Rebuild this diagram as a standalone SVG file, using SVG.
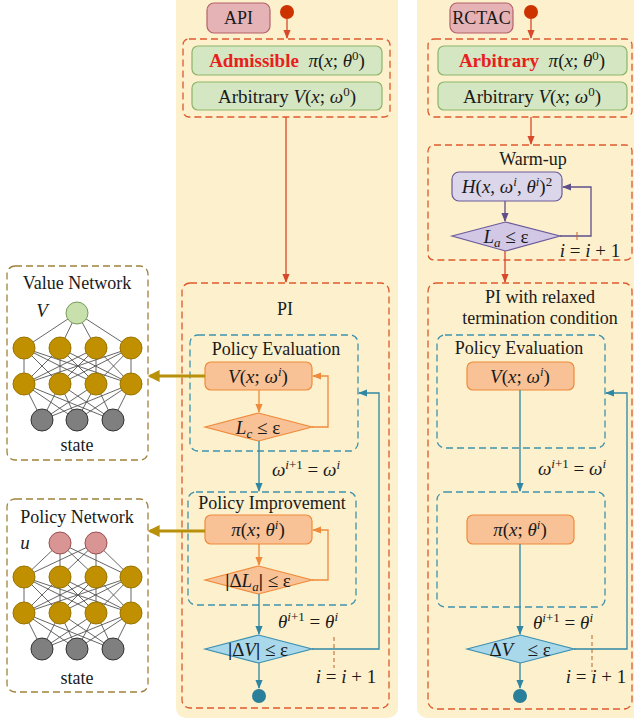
<svg xmlns="http://www.w3.org/2000/svg" width="634" height="721" viewBox="0 0 634 721">
<defs>
<style>
.t{font-family:"Liberation Serif","Times New Roman",serif;font-size:18px;fill:#1a1a1a}
.m{font-family:"Liberation Serif","Times New Roman",serif;font-size:19px;fill:#1a1a1a}
.i{font-style:italic}
.panel{fill:#fdf0cc;stroke:none}
.rd{fill:none;stroke:#de5a2e;stroke-width:1.3;stroke-dasharray:7 4}
.bd{fill:none;stroke:#3f93ad;stroke-width:1.3;stroke-dasharray:7 4}
.gd{fill:none;stroke:#a0823a;stroke-width:1.3;stroke-dasharray:7 4}
.green{fill:#d5e6c2;stroke:#8cb56a;stroke-width:1.2}
.orange{fill:#f8c296;stroke:#ef8a3b;stroke-width:1.2}
.blue{fill:#a8d8ea;stroke:#3b8fb0;stroke-width:1.2}
.lav{fill:#dcd6ea;stroke:#6a5a9a;stroke-width:1.2}
.lavd{fill:#d2c8e6;stroke:#6a5a9a;stroke-width:1.2}
.pink{fill:#e5b3b6;stroke:#b4626b;stroke-width:1.2}
.lr{fill:none;stroke:#d8482a;stroke-width:1.3}
.lo{fill:none;stroke:#ef8a3b;stroke-width:1.3}
.lb{fill:none;stroke:#2f86a3;stroke-width:1.3}
.lp{fill:none;stroke:#5e4e8a;stroke-width:1.3}
.lg{fill:none;stroke:#b8900a;stroke-width:3}
.tick{fill:none;stroke:#b5652b;stroke-width:1;stroke-dasharray:4 3}
.nl{stroke:#555;stroke-width:0.9}
.hid{fill:#c09000;stroke:#9a7500;stroke-width:1}
.inp{fill:#7f7f7f;stroke:#333;stroke-width:1}
.outv{fill:#c8e0ab;stroke:#7a9a5a;stroke-width:1}
.outp{fill:#d99494;stroke:#9a5050;stroke-width:1}
.sp{font-size:13px}
</style>
<marker id="ar" viewBox="0 0 10 10" refX="9" refY="5" markerWidth="7" markerHeight="7" orient="auto"><path d="M0,1 L10,5 L0,9 Z" fill="#d8482a"/></marker>
<marker id="ao" viewBox="0 0 10 10" refX="9" refY="5" markerWidth="7" markerHeight="7" orient="auto"><path d="M0,1 L10,5 L0,9 Z" fill="#ef8a3b"/></marker>
<marker id="ab" viewBox="0 0 10 10" refX="9" refY="5" markerWidth="7" markerHeight="7" orient="auto"><path d="M0,1 L10,5 L0,9 Z" fill="#2f86a3"/></marker>
<marker id="ap" viewBox="0 0 10 10" refX="9" refY="5" markerWidth="7" markerHeight="7" orient="auto"><path d="M0,1 L10,5 L0,9 Z" fill="#5e4e8a"/></marker>
<marker id="ag" viewBox="0 0 10 10" refX="8" refY="5" markerWidth="4" markerHeight="4" orient="auto"><path d="M0,0 L10,5 L0,10 Z" fill="#b8900a"/></marker>
</defs>
<rect width="634" height="721" fill="#fff"/>

<!-- panels -->
<rect class="panel" x="176" y="-10" width="222" height="728" rx="10"/>
<rect class="panel" x="417" y="-10" width="230" height="728" rx="10"/>

<!-- ===== LEFT (API) ===== -->
<g id="api-label">
<rect class="pink" x="207" y="3" width="63" height="30" rx="7"/>
<text class="t" x="238.5" y="24" text-anchor="middle" font-size="19">API</text>
</g>
<g id="api-start"><circle cx="287" cy="12" r="7" fill="#cc3300"/></g>
<g id="api-init">
<rect class="rd" x="183" y="39" width="207" height="78" rx="6"/>
<rect class="green" x="192" y="46" width="190" height="29" rx="6"/>
<text class="m" x="287" y="67" text-anchor="middle"><tspan font-weight="bold" fill="#e8201c">Admissible</tspan>&#160;&#160;<tspan class="i">π</tspan>(<tspan class="i">x</tspan>; <tspan class="i">θ</tspan><tspan dy="-7" class="sp">0</tspan><tspan dy="7">)</tspan></text>
<rect class="green" x="192" y="82" width="190" height="28" rx="6"/>
<text class="m" x="287" y="103" text-anchor="middle">Arbitrary <tspan class="i">V</tspan>(<tspan class="i">x</tspan>; <tspan class="i">ω</tspan><tspan dy="-7" class="sp">0</tspan><tspan dy="7">)</tspan></text>
</g>
<g id="api-pi">
<rect class="rd" x="182" y="283" width="207" height="425" rx="8"/>
<text class="t" x="285" y="315" text-anchor="middle" font-size="19">PI</text>
</g>
<g id="api-pe">
<rect class="bd" x="190" y="335" width="168" height="116" rx="8"/>
<text class="t" x="276" y="355" text-anchor="middle">Policy Evaluation</text>
<rect class="orange" x="205" y="362" width="107" height="28" rx="6"/>
<text class="m" x="258" y="383" text-anchor="middle"><tspan class="i">V</tspan>(<tspan class="i">x</tspan>; <tspan class="i">ω</tspan><tspan dy="-7" class="sp i">i</tspan><tspan dy="7">)</tspan></text>
<polygon class="orange" points="205,427 258.5,413 312,427 258.5,441"/>
<text class="m" x="258" y="434" text-anchor="middle"><tspan class="i">L</tspan><tspan dy="4" class="sp i">c</tspan><tspan dy="-4">&#160;≤ ε</tspan></text>
</g>
<g id="api-pimp">
<rect class="bd" x="188" y="492" width="168" height="113" rx="8"/>
<text class="t" x="272" y="509" text-anchor="middle">Policy Improvement</text>
<rect class="orange" x="205" y="515" width="107" height="29" rx="6"/>
<text class="m" x="258" y="536" text-anchor="middle"><tspan class="i">π</tspan>(<tspan class="i">x</tspan>; <tspan class="i">θ</tspan><tspan dy="-7" class="sp i">i</tspan><tspan dy="7">)</tspan></text>
<polygon class="orange" points="205,580 258.5,566 312,580 258.5,594"/>
<text class="m" x="258" y="587" text-anchor="middle"><tspan font-weight="bold">|</tspan>Δ<tspan class="i">L</tspan><tspan dy="4" class="sp i">a</tspan><tspan dy="-4" font-weight="bold">|</tspan> ≤ ε</text>
</g>
<g id="api-check">
<polygon class="blue" points="205,649 258.5,635 312,649 258.5,663"/>
<text class="m" x="258" y="656" text-anchor="middle"><tspan font-weight="bold">|</tspan>Δ<tspan class="i">V</tspan><tspan font-weight="bold">|</tspan> ≤ ε</text>
</g>
<g id="api-end"><circle cx="259" cy="696" r="7" fill="#2a7f9a"/></g>

<!-- ===== RIGHT (RCTAC) ===== -->
<g id="rctac-label">
<rect class="pink" x="450" y="3" width="63" height="30" rx="7"/>
<text class="t" x="481.5" y="24" text-anchor="middle" font-size="19">RCTAC</text>
</g>
<g id="rctac-start"><circle cx="531" cy="12" r="7" fill="#cc3300"/></g>
<g id="rctac-init">
<rect class="rd" x="428" y="39" width="204" height="78" rx="6"/>
<rect class="green" x="438" y="46" width="189" height="29" rx="6"/>
<text class="m" x="532" y="67" text-anchor="middle"><tspan font-weight="bold" fill="#e8201c">Arbitrary</tspan>&#160;&#160;<tspan class="i">π</tspan>(<tspan class="i">x</tspan>; <tspan class="i">θ</tspan><tspan dy="-7" class="sp">0</tspan><tspan dy="7">)</tspan></text>
<rect class="green" x="438" y="82" width="189" height="28" rx="6"/>
<text class="m" x="532" y="103" text-anchor="middle">Arbitrary <tspan class="i">V</tspan>(<tspan class="i">x</tspan>; <tspan class="i">ω</tspan><tspan dy="-7" class="sp">0</tspan><tspan dy="7">)</tspan></text>
</g>
<g id="warmup">
<rect class="rd" x="428" y="145" width="204" height="115" rx="6"/>
<text class="t" x="533" y="165" text-anchor="middle">Warm-up</text>
<rect class="lav" x="452" y="172" width="110" height="29" rx="7"/>
<text class="m" x="507" y="193" text-anchor="middle"><tspan class="i">H</tspan>(<tspan class="i">x</tspan>, <tspan class="i">ω</tspan><tspan dy="-7" class="sp i">i</tspan><tspan dy="7">, </tspan><tspan class="i">θ</tspan><tspan dy="-7" class="sp i">i</tspan><tspan dy="7">)</tspan><tspan dy="-7" class="sp">2</tspan></text>
<polygon class="lavd" points="452,236 505.5,222 560,236 505.5,251"/>
<text class="m" x="506" y="243" text-anchor="middle"><tspan class="i">L</tspan><tspan dy="4" class="sp i">a</tspan><tspan dy="-4">&#160;≤ ε</tspan></text>
<text class="m" x="590" y="257" text-anchor="middle"><tspan class="i">i</tspan> = <tspan class="i">i</tspan> + 1</text>
</g>
<g id="rctac-pi">
<rect class="rd" x="428" y="283" width="204" height="426" rx="8"/>
<text class="t" x="540" y="303" text-anchor="middle">PI with relaxed</text>
<text class="t" x="540" y="324" text-anchor="middle">termination condition</text>
</g>
<g id="rctac-pe">
<rect class="bd" x="437" y="335" width="168" height="113" rx="8"/>
<text class="t" x="519" y="354" text-anchor="middle">Policy Evaluation</text>
<rect class="orange" x="467" y="362" width="107" height="28" rx="6"/>
<text class="m" x="520" y="383" text-anchor="middle"><tspan class="i">V</tspan>(<tspan class="i">x</tspan>; <tspan class="i">ω</tspan><tspan dy="-7" class="sp i">i</tspan><tspan dy="7">)</tspan></text>
</g>
<g id="rctac-pimp">
<rect class="bd" x="437" y="492" width="168" height="115" rx="8"/>
<rect class="orange" x="467" y="515" width="107" height="29" rx="6"/>
<text class="m" x="520" y="536" text-anchor="middle"><tspan class="i">π</tspan>(<tspan class="i">x</tspan>; <tspan class="i">θ</tspan><tspan dy="-7" class="sp i">i</tspan><tspan dy="7">)</tspan></text>
</g>
<g id="rctac-check">
<polygon class="blue" points="467,649 520.5,635 574,649 520.5,663"/>
<text class="m" x="520" y="656" text-anchor="middle">Δ<tspan class="i">V</tspan>&#160;&#160;&#160;≤ ε</text>
</g>
<g id="rctac-end"><circle cx="520" cy="696" r="7" fill="#2a7f9a"/></g>

<!-- ===== NETWORKS ===== -->
<g id="value-network">
<rect class="gd" x="7" y="266" width="141" height="194" rx="8"/>
<text class="t" x="77" y="289" text-anchor="middle">Value Network</text>
<text class="m i" x="42" y="317" text-anchor="middle">V</text>
<g>
<line class="nl" x1="77" y1="313" x2="24" y2="348"/><line class="nl" x1="77" y1="313" x2="60" y2="348"/><line class="nl" x1="77" y1="313" x2="96" y2="348"/><line class="nl" x1="77" y1="313" x2="131" y2="348"/>
<line class="nl" x1="24" y1="348" x2="24" y2="384"/><line class="nl" x1="24" y1="348" x2="60" y2="384"/><line class="nl" x1="24" y1="348" x2="96" y2="384"/><line class="nl" x1="24" y1="348" x2="131" y2="384"/>
<line class="nl" x1="60" y1="348" x2="24" y2="384"/><line class="nl" x1="60" y1="348" x2="60" y2="384"/><line class="nl" x1="60" y1="348" x2="96" y2="384"/><line class="nl" x1="60" y1="348" x2="131" y2="384"/>
<line class="nl" x1="96" y1="348" x2="24" y2="384"/><line class="nl" x1="96" y1="348" x2="60" y2="384"/><line class="nl" x1="96" y1="348" x2="96" y2="384"/><line class="nl" x1="96" y1="348" x2="131" y2="384"/>
<line class="nl" x1="131" y1="348" x2="24" y2="384"/><line class="nl" x1="131" y1="348" x2="60" y2="384"/><line class="nl" x1="131" y1="348" x2="96" y2="384"/><line class="nl" x1="131" y1="348" x2="131" y2="384"/>
<line class="nl" x1="24" y1="384" x2="42" y2="420"/><line class="nl" x1="24" y1="384" x2="77" y2="420"/><line class="nl" x1="24" y1="384" x2="113" y2="420"/>
<line class="nl" x1="60" y1="384" x2="42" y2="420"/><line class="nl" x1="60" y1="384" x2="77" y2="420"/><line class="nl" x1="60" y1="384" x2="113" y2="420"/>
<line class="nl" x1="96" y1="384" x2="42" y2="420"/><line class="nl" x1="96" y1="384" x2="77" y2="420"/><line class="nl" x1="96" y1="384" x2="113" y2="420"/>
<line class="nl" x1="131" y1="384" x2="42" y2="420"/><line class="nl" x1="131" y1="384" x2="77" y2="420"/><line class="nl" x1="131" y1="384" x2="113" y2="420"/>
</g>
<circle class="outv" cx="77" cy="313" r="11"/>
<circle class="hid" cx="24" cy="348" r="11"/><circle class="hid" cx="60" cy="348" r="11"/><circle class="hid" cx="96" cy="348" r="11"/><circle class="hid" cx="131" cy="348" r="11"/>
<circle class="hid" cx="24" cy="384" r="11"/><circle class="hid" cx="60" cy="384" r="11"/><circle class="hid" cx="96" cy="384" r="11"/><circle class="hid" cx="131" cy="384" r="11"/>
<circle class="inp" cx="42" cy="420" r="11"/><circle class="inp" cx="77" cy="420" r="11"/><circle class="inp" cx="113" cy="420" r="11"/>
<text class="t" x="77" y="451" text-anchor="middle">state</text>
</g>
<g id="policy-network">
<rect class="gd" x="7" y="499" width="141" height="193" rx="8"/>
<text class="t" x="77" y="523" text-anchor="middle">Policy Network</text>
<text class="m i" x="25" y="549" text-anchor="middle">u</text>
<g>
<line class="nl" x1="60" y1="543" x2="24" y2="577"/><line class="nl" x1="60" y1="543" x2="60" y2="577"/><line class="nl" x1="60" y1="543" x2="96" y2="577"/><line class="nl" x1="60" y1="543" x2="131" y2="577"/>
<line class="nl" x1="96" y1="543" x2="24" y2="577"/><line class="nl" x1="96" y1="543" x2="60" y2="577"/><line class="nl" x1="96" y1="543" x2="96" y2="577"/><line class="nl" x1="96" y1="543" x2="131" y2="577"/>
<line class="nl" x1="24" y1="577" x2="24" y2="613"/><line class="nl" x1="24" y1="577" x2="60" y2="613"/><line class="nl" x1="24" y1="577" x2="96" y2="613"/><line class="nl" x1="24" y1="577" x2="131" y2="613"/>
<line class="nl" x1="60" y1="577" x2="24" y2="613"/><line class="nl" x1="60" y1="577" x2="60" y2="613"/><line class="nl" x1="60" y1="577" x2="96" y2="613"/><line class="nl" x1="60" y1="577" x2="131" y2="613"/>
<line class="nl" x1="96" y1="577" x2="24" y2="613"/><line class="nl" x1="96" y1="577" x2="60" y2="613"/><line class="nl" x1="96" y1="577" x2="96" y2="613"/><line class="nl" x1="96" y1="577" x2="131" y2="613"/>
<line class="nl" x1="131" y1="577" x2="24" y2="613"/><line class="nl" x1="131" y1="577" x2="60" y2="613"/><line class="nl" x1="131" y1="577" x2="96" y2="613"/><line class="nl" x1="131" y1="577" x2="131" y2="613"/>
<line class="nl" x1="24" y1="613" x2="42" y2="649"/><line class="nl" x1="24" y1="613" x2="77" y2="649"/><line class="nl" x1="24" y1="613" x2="113" y2="649"/>
<line class="nl" x1="60" y1="613" x2="42" y2="649"/><line class="nl" x1="60" y1="613" x2="77" y2="649"/><line class="nl" x1="60" y1="613" x2="113" y2="649"/>
<line class="nl" x1="96" y1="613" x2="42" y2="649"/><line class="nl" x1="96" y1="613" x2="77" y2="649"/><line class="nl" x1="96" y1="613" x2="113" y2="649"/>
<line class="nl" x1="131" y1="613" x2="42" y2="649"/><line class="nl" x1="131" y1="613" x2="77" y2="649"/><line class="nl" x1="131" y1="613" x2="113" y2="649"/>
</g>
<circle class="outp" cx="60" cy="543" r="11"/><circle class="outp" cx="96" cy="543" r="11"/>
<circle class="hid" cx="24" cy="577" r="11"/><circle class="hid" cx="60" cy="577" r="11"/><circle class="hid" cx="96" cy="577" r="11"/><circle class="hid" cx="131" cy="577" r="11"/>
<circle class="hid" cx="24" cy="613" r="11"/><circle class="hid" cx="60" cy="613" r="11"/><circle class="hid" cx="96" cy="613" r="11"/><circle class="hid" cx="131" cy="613" r="11"/>
<circle class="inp" cx="42" cy="649" r="11"/><circle class="inp" cx="77" cy="649" r="11"/><circle class="inp" cx="113" cy="649" r="11"/>
<text class="t" x="77" y="684" text-anchor="middle">state</text>
</g>

<!-- ===== CONNECTORS ===== -->
<g id="connectors">
<!-- left -->
<line class="lr" x1="287" y1="19" x2="287" y2="38" marker-end="url(#ar)"/>
<line class="lr" x1="286" y1="117" x2="286" y2="282" marker-end="url(#ar)"/>
<line class="lo" x1="259" y1="390" x2="259" y2="412" marker-end="url(#ao)"/>
<polyline class="lo" points="312,427 328,427 328,376 313,376" marker-end="url(#ao)"/>
<line class="lb" x1="259" y1="441" x2="259" y2="491" marker-end="url(#ab)"/>
<line class="lo" x1="259" y1="544" x2="259" y2="565" marker-end="url(#ao)"/>
<polyline class="lo" points="312,580 328,580 328,530 313,530" marker-end="url(#ao)"/>
<line class="lb" x1="259" y1="594" x2="259" y2="634" marker-end="url(#ab)"/>
<polyline class="lb" points="312,649 379,649 379,393 359,393" marker-end="url(#ab)"/>
<line class="lb" x1="259" y1="663" x2="259" y2="688" marker-end="url(#ab)"/>
<line class="tick" x1="334" y1="637" x2="334" y2="668"/>
<text class="m" x="306" y="476" text-anchor="middle"><tspan class="i">ω</tspan><tspan dy="-7" class="sp i">i</tspan><tspan class="sp">+1</tspan><tspan dy="7"> = </tspan><tspan class="i">ω</tspan><tspan dy="-7" class="sp i">i</tspan></text>
<text class="m" x="308" y="628" text-anchor="middle"><tspan class="i">θ</tspan><tspan dy="-7" class="sp i">i</tspan><tspan class="sp">+1</tspan><tspan dy="7"> = </tspan><tspan class="i">θ</tspan><tspan dy="-7" class="sp i">i</tspan></text>
<text class="m" x="346" y="683" text-anchor="middle"><tspan class="i">i</tspan> = <tspan class="i">i</tspan> + 1</text>
<!-- gold -->
<line class="lg" x1="205" y1="376" x2="150" y2="376" marker-end="url(#ag)"/>
<line class="lg" x1="205" y1="531" x2="150" y2="531" marker-end="url(#ag)"/>
<!-- right -->
<line class="lr" x1="531" y1="19" x2="531" y2="38" marker-end="url(#ar)"/>
<line class="lr" x1="531" y1="117" x2="531" y2="144" marker-end="url(#ar)"/>
<line class="lp" x1="505" y1="201" x2="505" y2="221" marker-end="url(#ap)"/>
<polyline class="lp" points="560,236 591,236 591,187 563,187" marker-end="url(#ap)"/>
<line x1="577" y1="232" x2="577" y2="240" stroke="#c8602a" stroke-width="1"/>
<line class="lr" x1="505" y1="251" x2="505" y2="282" marker-end="url(#ar)"/>
<line class="lb" x1="520" y1="390" x2="520" y2="491" marker-end="url(#ab)"/>
<line class="lb" x1="520" y1="544" x2="520" y2="634" marker-end="url(#ab)"/>
<polyline class="lb" points="574,649 627,649 627,393 606,393" marker-end="url(#ab)"/>
<line class="lb" x1="520" y1="663" x2="520" y2="688" marker-end="url(#ab)"/>
<line class="tick" x1="592" y1="635" x2="592" y2="672"/>
<text class="m" x="572" y="475" text-anchor="middle"><tspan class="i">ω</tspan><tspan dy="-7" class="sp i">i</tspan><tspan class="sp">+1</tspan><tspan dy="7"> = </tspan><tspan class="i">ω</tspan><tspan dy="-7" class="sp i">i</tspan></text>
<text class="m" x="563" y="629" text-anchor="middle"><tspan class="i">θ</tspan><tspan dy="-7" class="sp i">i</tspan><tspan class="sp">+1</tspan><tspan dy="7"> = </tspan><tspan class="i">θ</tspan><tspan dy="-7" class="sp i">i</tspan></text>
<text class="m" x="596" y="683" text-anchor="middle"><tspan class="i">i</tspan> = <tspan class="i">i</tspan> + 1</text>
</g>
</svg>
